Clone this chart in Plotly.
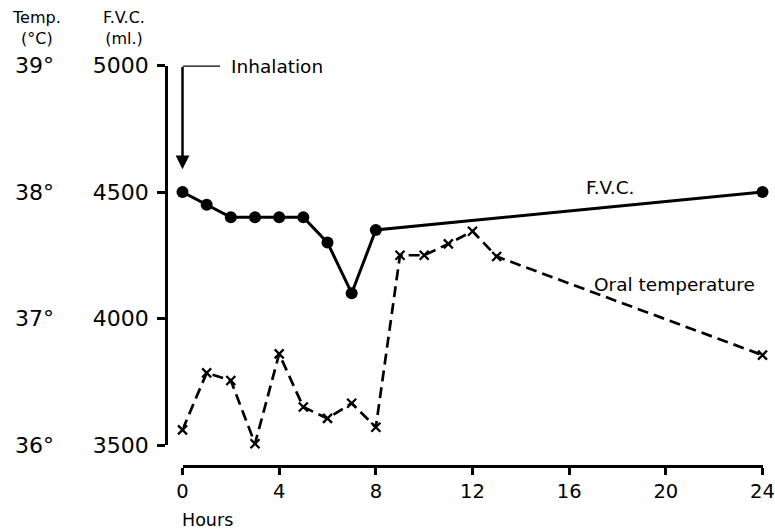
import plotly.graph_objects as go

# Data
fvc_hours = [0, 1, 2, 3, 4, 5, 6, 7, 8, 24]
fvc_ml = [4500, 4450, 4400, 4400, 4400, 4400, 4300, 4100, 4350, 4500]

temp_hours = [0, 1, 2, 3, 4, 5, 6, 7, 8, 9, 10, 11, 12, 13, 24]
temp_c = [36.12, 36.57, 36.51, 36.01, 36.72, 36.30, 36.21, 36.33, 36.14,
          37.50, 37.50, 37.59, 37.69, 37.49, 36.71]

x_ticks = [0, 4, 8, 12, 16, 20, 24]
fvc_ticks = [3500, 4000, 4500, 5000]
temp_ticks = [36, 37, 38, 39]
temp_ticktext = ["36°", "37°", "38°", "39°"]

FONT = "'DejaVu Sans', sans-serif"
OFF = 0            # page body margin is removed by the post script
W, H = 775, 530


def px(sx):
    return (sx - OFF) / W


def py(sy):
    return 1 - (sy - OFF) / H


fig = go.Figure()
fig.add_trace(go.Scatter(
    x=fvc_hours, y=fvc_ml, mode="lines+markers",
    line=dict(color="black", width=3),
    marker=dict(color="black", size=12),
    cliponaxis=False, showlegend=False, yaxis="y"))
fig.add_trace(go.Scatter(
    x=temp_hours, y=temp_c, mode="lines+markers",
    line=dict(color="black", width=2.7, dash="11px,6px"),
    marker=dict(symbol="x-thin", size=9, color="black",
                line=dict(color="black", width=2.3)),
    cliponaxis=False, showlegend=False, yaxis="y2"))

xd = [px(182.5), px(762.5)]
yd = [py(445), py(65.5)]

fig.update_layout(
    width=W, height=H,
    margin=dict(l=0, r=0, t=0, b=0),
    paper_bgcolor="white", plot_bgcolor="white",
    font=dict(family=FONT, color="black", size=19),
    xaxis=dict(domain=xd, range=[0, 24], anchor="free", position=py(466),
               tickvals=x_ticks,
               ticks="outside", ticklen=7, tickwidth=2.5,
               tickcolor="black", showline=True, linecolor="black", linewidth=2.5,
               showgrid=False, zeroline=False, automargin=False,
               ticklabeloverflow="allow",
               tickfont=dict(size=19.5)),
    yaxis=dict(domain=yd, range=[3500, 5000], anchor="free", position=px(166),
               tickvals=fvc_ticks, ticks="outside", ticklen=8, tickwidth=2.5,
               tickcolor="black", showline=True, linecolor="black", linewidth=2.5,
               showgrid=False, zeroline=False, automargin=False,
               ticklabelstandoff=4,
               tickfont=dict(size=22)),
    yaxis2=dict(domain=yd, range=[36, 39], overlaying="y", anchor="free",
                position=px(54), side="left",
                tickvals=temp_ticks, ticktext=temp_ticktext, ticks="",
                showline=False, showgrid=False, zeroline=False, automargin=False,
                tickfont=dict(size=22)),
)

# Inhalation marker: horizontal line + downward arrow
fig.add_shape(type="line", xref="x", yref="y", x0=0, x1=1.55, y0=5000, y1=5000,
              line=dict(color="black", width=2.5))
fig.add_annotation(xref="x", yref="y", x=0, y=4590, ax=0, ay=5000,
                   axref="x", ayref="y", text="", showarrow=True,
                   arrowhead=2, arrowsize=1.1, arrowwidth=2.5, arrowcolor="black")
fig.add_annotation(xref="paper", yref="paper", x=px(229), y=py(67), text="Inhalation",
                   showarrow=False, xanchor="left", yanchor="middle",
                   font=dict(size=18.5))

fig.add_annotation(xref="paper", yref="paper", x=px(584), y=py(188), text="F.V.C.",
                   showarrow=False, xanchor="left", yanchor="middle",
                   font=dict(size=18.5))
fig.add_annotation(xref="paper", yref="paper", x=px(592), y=py(284),
                   text="Oral temperature",
                   showarrow=False, xanchor="left", yanchor="middle",
                   font=dict(size=18.5))

# Axis titles
for txt, cx in [("Temp.<br>(°C)", 36), ("F.V.C.<br>(ml.)", 124)]:
    fig.add_annotation(xref="paper", yref="paper", x=px(cx), y=py(28), text=txt,
                       showarrow=False, xanchor="center", yanchor="middle",
                       align="center", font=dict(size=16))
fig.add_annotation(xref="paper", yref="paper", x=px(180), y=py(520), text="Hours",
                   showarrow=False, xanchor="left", yanchor="middle",
                   font=dict(size=17.5))

fig.write_html("out.html",
               config={"displayModeBar": False},
               post_script="document.body.style.margin='0';"
                           "document.body.style.overflow='hidden';")
